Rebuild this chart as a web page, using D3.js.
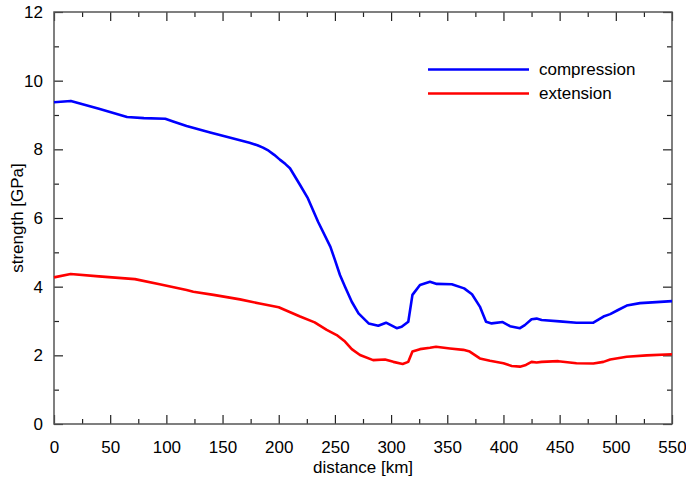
<!DOCTYPE html>
<html><head><meta charset="utf-8">
<script src="https://cdn.jsdelivr.net/npm/d3@7"></script>
<style>body{margin:0;background:#fff}svg{display:block}text{font-family:"Liberation Sans",Arial,sans-serif}</style>
</head><body>
<svg id="chart" width="686" height="478"></svg>
<script>
const xTicks = [0,50,100,150,200,250,300,350,400,450,500,550];
const yTicks = [0,2,4,6,8,10,12];
const seriesNames = ["compression","extension"];
const seriesColors = ["#0000ff","#ff0000"];
const compressionX = [0,15,40,65,80,99,106,118,139,157,174,181,186,191,196,201,206,210,219,226,235,246,250,254.5,259,265,271,280,288.6,295.5,305,309.4,315.3,319,325.7,334.6,340.6,354,365,372,379,384.5,389.5,399.3,405.8,414.7,419,425,429.5,434,450,465,480,489,495,502,509.7,521.5,536,550];
const compressionY = [9.37,9.41,9.18,8.94,8.91,8.89,8.81,8.68,8.49,8.34,8.19,8.12,8.05,7.96,7.84,7.70,7.57,7.45,6.96,6.57,5.89,5.16,4.78,4.34,4.00,3.56,3.22,2.93,2.86,2.95,2.79,2.83,2.98,3.76,4.05,4.14,4.08,4.07,3.95,3.78,3.42,2.98,2.93,2.97,2.85,2.79,2.88,3.05,3.07,3.03,2.99,2.95,2.95,3.13,3.20,3.32,3.45,3.52,3.55,3.58];
const extensionX = [0,14.8,40,72,94,118,124,142,165.5,183,200,205.6,219,232,242.7,251.6,259,265,272.3,284,294.6,302,310.3,315.3,319,325.7,334.6,340,352.4,364.3,370,379,388,400,407.3,414.7,420,425,429.5,434,448.8,465,480,489,495,509.7,527.5,550];
const extensionY = [4.27,4.37,4.30,4.22,4.07,3.90,3.85,3.76,3.63,3.51,3.40,3.32,3.13,2.96,2.74,2.59,2.40,2.18,2.01,1.86,1.88,1.81,1.75,1.81,2.11,2.18,2.22,2.25,2.20,2.16,2.11,1.91,1.84,1.77,1.69,1.67,1.72,1.81,1.79,1.81,1.83,1.77,1.76,1.81,1.88,1.96,2.00,2.03];

const L = 54, R = 672, T = 12, B = 424;
const svg = d3.select("#chart");
const x = d3.scaleLinear().domain([0,550]).range([L,R]);
const y = d3.scaleLinear().domain([0,12]).range([B,T]);
const minorX = d3.range(0,551,25).filter(v => v % 50 !== 0);
const minorY = d3.range(0,13,1).filter(v => v % 2 !== 0);
const fs = "17px";

function axisG(axis, tx, ty){
  const g = svg.append("g").attr("transform",`translate(${tx},${ty})`).call(axis);
  g.select(".domain").remove();
  g.selectAll(".tick line").attr("stroke","#222").attr("stroke-width",1.2);
  g.selectAll("text").attr("font-size",fs).attr("fill","#000").attr("font-family","Liberation Sans, Arial, sans-serif");
  return g;
}
// bottom
axisG(d3.axisBottom(x).tickValues(xTicks).tickSize(-9).tickPadding(17).tickFormat(d3.format("d")), 0, B);
axisG(d3.axisBottom(x).tickValues(minorX).tickSize(-5).tickFormat(""), 0, B);
// top
axisG(d3.axisTop(x).tickValues(xTicks).tickSize(-9).tickFormat(""), 0, T);
axisG(d3.axisTop(x).tickValues(minorX).tickSize(-5).tickFormat(""), 0, T);
// left
axisG(d3.axisLeft(y).tickValues(yTicks).tickSize(-9).tickPadding(11).tickFormat(d3.format("d")), L, 0);
axisG(d3.axisLeft(y).tickValues(minorY).tickSize(-5).tickFormat(""), L, 0);
// right
axisG(d3.axisRight(y).tickValues(yTicks).tickSize(-9).tickFormat(""), R, 0);
axisG(d3.axisRight(y).tickValues(minorY).tickSize(-5).tickFormat(""), R, 0);

// frame
svg.append("rect").attr("x",L).attr("y",T).attr("width",R-L).attr("height",B-T)
  .attr("fill","none").attr("stroke","#555").attr("stroke-width",1.5);

const line = d3.line().x(d => x(d[0])).y(d => y(d[1]));
const series = [d3.zip(compressionX, compressionY), d3.zip(extensionX, extensionY)];
series.forEach((s,i) => {
  svg.append("path").datum(s).attr("d", line).attr("fill","none")
    .attr("stroke", seriesColors[i]).attr("stroke-width",2.6).attr("stroke-linejoin","round");
});

// legend
const legY = [69.5, 93.5];
seriesNames.forEach((n,i) => {
  svg.append("line").attr("x1",428).attr("x2",529).attr("y1",legY[i]).attr("y2",legY[i])
    .attr("stroke",seriesColors[i]).attr("stroke-width",2.6);
  svg.append("text").attr("x",539).attr("y",legY[i]).attr("dy","0.35em").attr("font-size",fs).text(n);
});

// titles
svg.append("text").attr("x",(L+R)/2).attr("y",473).attr("text-anchor","middle").attr("font-size",fs).text("distance [km]");
svg.append("text").attr("transform",`translate(23,${(T+B)/2}) rotate(-90)`).attr("text-anchor","middle").attr("font-size",fs).text("strength [GPa]");
</script>
</body></html>
